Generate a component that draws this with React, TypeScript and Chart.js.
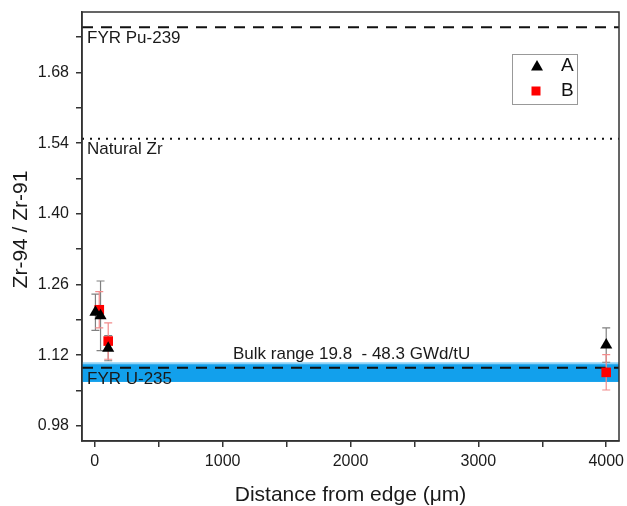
import React, { useEffect, useRef } from "react";
import { Chart, registerables } from "chart.js";

Chart.register(...registerables);

// ---- data ----
const seriesALabel = "A";
const seriesAX = [5, 45, 105, 4000];
const seriesAY = [1.205, 1.198, 1.134, 1.14];
const seriesAErr = [0.036, 0.069, 0.025, 0.034];

const seriesBLabel = "B";
const seriesBX = [35, 105, 4000];
const seriesBY = [1.21, 1.148, 1.086];
const seriesBErr = [0.036, 0.036, 0.035];

const xMajorTicks = [0, 1000, 2000, 3000, 4000];
const xMinorTicks = [500, 1500, 2500, 3500];
const yMajorTicks = [0.98, 1.12, 1.26, 1.4, 1.54, 1.68];
const yMinorTicks = [1.05, 1.19, 1.33, 1.47, 1.61, 1.75];

const refLineLabels = ["FYR Pu-239", "Natural Zr", "FYR U-235"];
const refLineValues = [1.77, 1.549, 1.095];
const refLineStyles = ["dash", "dot", "dash"];

const bandLow = 1.067;
const bandHigh = 1.104;
const bandLabel = "Bulk range 19.8  - 48.3 GWd/tU";

const xTitle = "Distance from edge (\u03bcm)";
const yTitle = "Zr-94 / Zr-91";

const FONT = "'Liberation Sans', Arial, sans-serif";

const isIn = (arr: number[], v: number) => arr.some((a) => Math.abs(a - v) < 1e-6);

const overlayPlugin = {
  id: "overlay",
  beforeDatasetsDraw(chart: any) {
    const { ctx, chartArea, scales } = chart;
    const y = scales.y;
    ctx.save();
    ctx.beginPath();
    ctx.rect(chartArea.left, chartArea.top, chartArea.right - chartArea.left, chartArea.bottom - chartArea.top);
    ctx.clip();
    // band
    const by1 = y.getPixelForValue(bandHigh);
    const by2 = y.getPixelForValue(bandLow);
    ctx.fillStyle = "#12a0ec";
    ctx.fillRect(chartArea.left, by1, chartArea.right - chartArea.left, by2 - by1);
    ctx.fillStyle = "#8ed2f6";
    ctx.fillRect(chartArea.left, by1 - 1, chartArea.right - chartArea.left, 2);
    // ref lines
    refLineValues.forEach((v, i) => {
      const py = y.getPixelForValue(v);
      ctx.beginPath();
      ctx.strokeStyle = "#111";
      ctx.lineWidth = 2;
      ctx.setLineDash(refLineStyles[i] === "dot" ? [2, 6] : [11, 8]);
      ctx.moveTo(chartArea.left, py);
      ctx.lineTo(chartArea.right, py);
      ctx.stroke();
    });
    ctx.setLineDash([]);
    // labels
    ctx.fillStyle = "#1a1a1a";
    ctx.font = `17px ${FONT}`;
    ctx.textAlign = "left";
    ctx.textBaseline = "middle";
    refLineValues.forEach((v, i) => {
      const py = y.getPixelForValue(v);
      ctx.fillText(refLineLabels[i], chartArea.left + 5, py + 11);
    });
    ctx.fillText(bandLabel, chartArea.left + 151, by1 - 9);
    // error bars
    const x = scales.x;
    const drawErr = (xs: number[], ys: number[], es: number[], color: string) => {
      ctx.strokeStyle = color;
      ctx.lineWidth = 1.2;
      xs.forEach((xv, i) => {
        const px = x.getPixelForValue(xv);
        const top = y.getPixelForValue(ys[i] + es[i]);
        const bot = y.getPixelForValue(ys[i] - es[i]);
        ctx.beginPath();
        ctx.moveTo(px, top);
        ctx.lineTo(px, bot);
        ctx.moveTo(px - 4, top);
        ctx.lineTo(px + 4, top);
        ctx.moveTo(px - 4, bot);
        ctx.lineTo(px + 4, bot);
        ctx.stroke();
      });
    };
    drawErr(seriesAX, seriesAY, seriesAErr, "#808080");
    drawErr(seriesBX, seriesBY, seriesBErr, "#f28b8b");
    ctx.restore();
  },
  afterDraw(chart: any) {
    const { ctx, chartArea } = chart;
    ctx.save();
    ctx.strokeStyle = "#333";
    ctx.lineWidth = 1.5;
    ctx.strokeRect(chartArea.left, chartArea.top, chartArea.right - chartArea.left, chartArea.bottom - chartArea.top);
    // axis titles
    ctx.fillStyle = "#1a1a1a";
    ctx.font = `21px ${FONT}`;
    ctx.textAlign = "center";
    ctx.textBaseline = "middle";
    ctx.fillText(xTitle, (chartArea.left + chartArea.right) / 2, 495);
    ctx.save();
    ctx.translate(21, (chartArea.top + chartArea.bottom) / 2 + 3);
    ctx.rotate(-Math.PI / 2);
    ctx.fillText(yTitle, 0, 0);
    ctx.restore();
    // legend
    const lx = chartArea.right - 107;
    const ly = chartArea.top + 42;
    ctx.strokeStyle = "#999";
    ctx.lineWidth = 1;
    ctx.strokeRect(lx + 0.5, ly + 0.5, 65, 50);
    // triangle
    const tx = lx + 25, ty = ly + 12;
    ctx.fillStyle = "#000";
    ctx.beginPath();
    ctx.moveTo(tx, ty - 6);
    ctx.lineTo(tx + 6, ty + 4.5);
    ctx.lineTo(tx - 6, ty + 4.5);
    ctx.closePath();
    ctx.fill();
    const sx = lx + 24, sy = ly + 37;
    ctx.fillStyle = "#ff0000";
    ctx.fillRect(sx - 4.5, sy - 4.5, 9, 9);
    ctx.fillStyle = "#111";
    ctx.font = `19px ${FONT}`;
    ctx.textAlign = "left";
    ctx.fillText(seriesALabel, lx + 49, ty);
    ctx.fillText(seriesBLabel, lx + 49, sy);
    ctx.restore();
  },
};

export default function App() {
  const ref = useRef<HTMLCanvasElement>(null);
  useEffect(() => {
    if (!ref.current) return;
    const chart = new Chart(ref.current, {
      type: "scatter",
      data: {
        datasets: [
          {
            label: seriesALabel,
            data: seriesAX.map((xv, i) => ({ x: xv, y: seriesAY[i] })),
            pointStyle: "triangle",
            pointRadius: 7,
            backgroundColor: "#000",
            borderColor: "#000",
            borderWidth: 0,
          },
          {
            label: seriesBLabel,
            data: seriesBX.map((xv, i) => ({ x: xv, y: seriesBY[i] })),
            pointStyle: "rect",
            pointRadius: 6.8,
            backgroundColor: "#ff0000",
            borderColor: "#ff0000",
            borderWidth: 0,
          },
        ],
      },
      options: {
        animation: false,
        responsive: false,
        layout: { padding: { left: 0, right: 8, top: 12, bottom: 0 } },
        plugins: { legend: { display: false }, tooltip: { enabled: false } },
        scales: {
          x: {
            type: "linear",
            min: -100,
            max: 4100,
            afterBuildTicks: (s: any) => {
              s.ticks = [...xMajorTicks, ...xMinorTicks].sort((a, b) => a - b).map((v) => ({ value: v }));
            },
            afterFit: (s: any) => {
              s.height = 65;
              s.paddingLeft = 0;
              s.paddingRight = 0;
              s.paddingTop = 0;
              s.paddingBottom = 0;
            },
            ticks: {
              autoSkip: false,
              maxRotation: 0,
              padding: 5,
              color: "#1a1a1a",
              font: { family: FONT, size: 16 },
              callback: (v: any) => (isIn(xMajorTicks, Number(v)) ? String(v) : ""),
            },
            grid: { drawOnChartArea: false, drawTicks: true, tickLength: 6, color: "#333", lineWidth: 1.5 },
            border: { display: true, color: "#333", width: 1.5 },
          },
          y: {
            type: "linear",
            min: 0.95,
            max: 1.8,
            afterBuildTicks: (s: any) => {
              s.ticks = [...yMajorTicks, ...yMinorTicks].sort((a, b) => a - b).map((v) => ({ value: v }));
            },
            afterFit: (s: any) => {
              s.width = 82;
              s.paddingLeft = 0;
              s.paddingRight = 0;
              s.paddingTop = 0;
              s.paddingBottom = 0;
            },
            ticks: {
              autoSkip: false,
              padding: 7,
              color: "#1a1a1a",
              font: { family: FONT, size: 16 },
              callback: (v: any) => (isIn(yMajorTicks, Number(v)) ? Number(v).toFixed(2) : ""),
            },
            grid: { drawOnChartArea: false, drawTicks: true, tickLength: 6, color: "#333", lineWidth: 1.5 },
            border: { display: true, color: "#333", width: 1.5 },
          },
        },
      },
      plugins: [overlayPlugin],
    });
    return () => chart.destroy();
  }, []);
  return (
    <div style={{ position: "absolute", left: 0, top: 0, width: 627, height: 506, background: "#fff" }}>
      <canvas ref={ref} width={627} height={506} />
    </div>
  );
}
